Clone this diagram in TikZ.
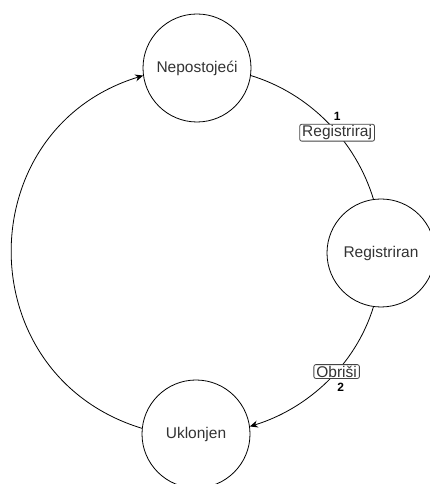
\documentclass[tikz,border=0pt]{standalone}
\usepackage{fontspec}
\setmainfont{Liberation Sans}
\definecolor{inktext}{HTML}{333333}
\definecolor{boxline}{HTML}{444444}
\usetikzlibrary{positioning, arrows.meta}

\begin{document}
\begin{tikzpicture}[x=1pt, y=1pt,
  state/.style={draw, circle, minimum size=108pt, inner sep=0pt,
                line width=0.8pt, text=inktext,
                font=\fontsize{15.5}{18}\selectfont},
  edgelbl/.style={draw=boxline, fill=white, rounded corners=2pt,
                  inner xsep=2.5pt, inner ysep=1.2pt, text=inktext,
                  font=\fontsize{15.5}{18}\selectfont},
  numlbl/.style={font=\fontsize{12}{14}\selectfont\bfseries},
  trans/.style={line width=0.8pt},
  tip/.style={-{Stealth[length=8pt, width=7pt]}},
]
\useasboundingbox (0,0) rectangle (430,484);

\node[state] (nep) at (197,416) {Nepostoje\'ci};
\node[state] (reg) at (381,231) {Registriran};
\node[state] (ukl) at (196,50) {Uklonjen};

\draw[trans] (nep.-8) to[out=-17, in=107, looseness=0.9]
  node[edgelbl, pos=0.58] (lreg) {Registriraj} (reg.98);
\draw[trans, tip] (reg.-98) to[out=-107, in=17, looseness=0.9]
  node[edgelbl, pos=0.42] (lobr) {Obri\v{s}i} (ukl.8);
\draw[trans, tip] (ukl.174) to[out=163, in=197, looseness=1.32] (nep.188);

\node[numlbl, above=0pt of lreg] {1};
\node[numlbl, below=1pt of lobr, xshift=4pt] {2};
\end{tikzpicture}
\end{document}
